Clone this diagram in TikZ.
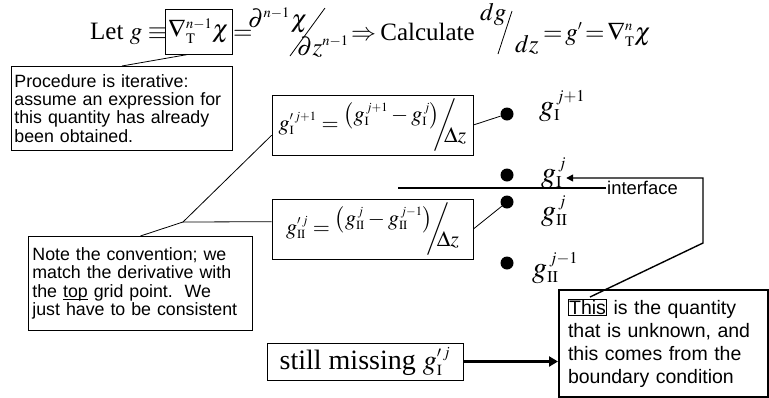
\documentclass[tikz,border=0pt]{standalone}
\usepackage{mathptmx}
\usepackage[no-math]{fontspec}
\setmainfont{Liberation Serif}
\newfontfamily\arialf{Liberation Sans}
\usetikzlibrary{arrows.meta,calc}
\DeclareMathSizes{25}{25}{14.5}{10}
\DeclareMathSizes{22}{22}{12.5}{9}
\DeclareMathSizes{30}{30}{16.5}{11}
\DeclareMathSizes{28}{28}{15.5}{10}
\hyphenpenalty=10000
\newcommand\sfr[2]{\raisebox{0.42em}{$#1$}\kern-0.3em\bigg/\kern-0.55em\raisebox{-0.55em}{$#2$}}
\newcommand\ulword[1]{\underline{\smash{#1}}}
\tikzset{
  thin box/.style={draw, line width=0.8pt},
  txtbox/.style={thin box, align=left, inner xsep=3pt, inner ysep=2pt,
    font=\arialf\fontsize{17.8}{18.3}\selectfont},
  eqbox/.style={thin box, minimum width=201, minimum height=60, inner sep=2pt,
    font=\fontsize{22}{26}\selectfont},
  topeq/.style={anchor=base west, inner sep=0pt, font=\fontsize{25}{30}\selectfont},
  lab/.style={anchor=base west, inner sep=0pt, font=\fontsize{30}{34}\selectfont},
  grid dot/.style={circle, fill=black, inner sep=0pt, minimum size=13},
  conn/.style={line width=0.8pt},
}
\begin{document}
\begin{tikzpicture}[x=1pt,y=-1pt]
\useasboundingbox (0,0) rectangle (769,397);
% top equation
\node[topeq] (let) at (90,39) {Let $g\equiv$};
\node[thin box, minimum width=67, minimum height=45, inner sep=0pt,
  font=\fontsize{25}{30}\selectfont] (nabla) at (198.5,31.5) {$\nabla^{n-1}_{\mathrm T}\chi$};
\node[topeq] (eq1) at (233,39) {$=$};
\node[topeq] (num1) at (248,27) {$\partial^{n-1}\kern1pt\chi$};
\coordinate (s1a) at (325,8);
\coordinate (s1b) at (290,56);
\draw[line width=0.8pt] (s1a) -- (s1b);
\node[topeq] (den1) at (297,55) {$\partial z^{n-1}$};
\node[topeq] (calc) at (351,40) {$\Rightarrow$\,Calculate};
\node[topeq] (num2) at (480,20) {$dg$};
\coordinate (s2a) at (512,11);
\coordinate (s2b) at (498,54);
\draw[line width=0.8pt] (s2a) -- (s2b);
\node[topeq] (den2) at (515,52) {$dz$};
\node[topeq] (rest) at (543,40) {$\thickmuskip=2mu =g'=\nabla^{n}_{\mathrm T}\chi$};
% procedure box
\node[txtbox, anchor=north west, minimum width=221, minimum height=84, text width=215]
  (proc) at (11,66) {Procedure is iterative:\\ assume an expression for\\ this quantity has already\\ been obtained.};
\draw[conn] (proc.north) -- ($(nabla.south west)!0.35!(nabla.south east)$);
% equation boxes
\node[eqbox] (box1) at (372.5,125)
  {$g'^{\,j+1}_{\mathrm I}=\sfr{\bigl(g^{\,j+1}_{\mathrm I}-g^{\,j}_{\mathrm I}\bigr)}{\Delta z}$};
\node[eqbox] (box2) at (372.5,229)
  {$g'^{\,j}_{\mathrm{II}}=\sfr{\bigl(g^{\,j}_{\mathrm{II}}-g^{\,j-1}_{\mathrm{II}}\bigr)}{\Delta z}$};
% grid points
\node[grid dot] (d1) at (507,114) {};
\node[grid dot] (d2) at (507,175) {};
\node[grid dot] (d3) at (507,202) {};
\node[grid dot] (d4) at (507,263) {};
\node[lab] (lab1) at (539,115) {$g^{\,j+1}_{\mathrm I}$};
\node[lab] (lab2) at (541,182) {$g^{\,j}_{\mathrm I}$};
\node[lab] (lab3) at (541,220) {$g^{\,j}_{\mathrm{II}}$};
\node[lab] (lab4) at (532,277) {$g^{\,j-1}_{\mathrm{II}}$};
\draw[conn] (box1.east) -- (d1);
\draw[conn] (box2.east) -- (d3);
% interface
\coordinate (ifL) at (398,188);
\node[anchor=west, inner sep=1pt, font=\arialf\fontsize{18.4}{20}\selectfont] (iface) at (606,188) {interface};
\draw[line width=2.5pt] (ifL) -- (iface.west);
% note box
\node[txtbox, anchor=north west, minimum width=224, minimum height=94, text width=216, inner xsep=4pt]
  (note) at (28,236) {Note the convention; we\\ match the derivative with\\ the \ulword{top} grid point.\ \ We\\ just have to be consistent};
\coordinate (fork) at (183,222);
\draw[conn] (note.north) -- (fork);
\draw[conn] (fork) -- ($(box1.south west)!0.33!(box1.north west)$);
\draw[conn] (fork) -- ($(box2.south west)!0.62!(box2.north west)$);
% still missing
\node[thin box, minimum width=196, minimum height=37, inner sep=2pt,
  font=\fontsize{28}{32}\selectfont] (miss) at (365,361.5) {still missing $g'^{\,j}_{\mathrm I}$};
% this box
\node[draw, line width=2pt, anchor=north west, minimum width=209, minimum height=107,
  align=left, text width=191, inner xsep=8pt, font=\arialf\fontsize{19.5}{23}\selectfont]
  (thisbox) at (558,289) {\setlength\fboxsep{0.5pt}\setlength\fboxrule{0.6pt}\fbox{This} is the quantity\\ that is unknown, and\\ this comes from the\\ boundary condition};
\draw[line width=3pt, -{Triangle[length=9pt,width=10pt]}] (miss.east) -- (thisbox.west |- miss.east);
% arrow to g_I^j
\coordinate (thisTop) at (590,297);
\coordinate (b1) at (703,243);
\coordinate (b2) at (703,178);
\draw[line width=1.4pt, -{Triangle[length=7pt,width=7pt]}] (thisTop) -- (b1) -- (b2) -- (b2 -| lab2.east);
\end{tikzpicture}
\end{document}
